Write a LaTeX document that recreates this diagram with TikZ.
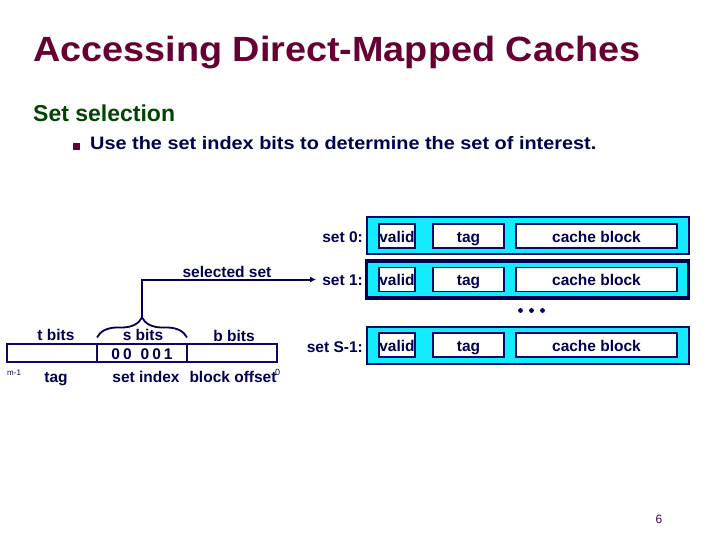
\documentclass[tikz,border=0pt]{standalone}
\usepackage{fontspec}
\setmainfont{Liberation Sans}
\newfontfamily\titlefont{Liberation Sans}[FakeStretch=1.08]
\newfontfamily\bulfont{Liberation Sans}[FakeStretch=1.105]
\usetikzlibrary{arrows.meta,decorations.pathreplacing}
\definecolor{titlecol}{RGB}{102,0,51}
\definecolor{subcol}{RGB}{0,70,0}
\definecolor{navy}{RGB}{0,0,80}
\definecolor{boxline}{RGB}{10,10,100}
\definecolor{cyanfill}{RGB}{20,235,255}
\definecolor{pagecol}{RGB}{60,0,60}
\tikzset{
  lbl/.style={font=\fontsize{15.5}{18}\selectfont\bfseries, text=navy, inner sep=0pt},
  setrow/.style={draw=boxline, line width=2pt, fill=cyanfill, minimum height=37pt, minimum width=322pt, inner sep=0pt},
  selrow/.style={setrow, line width=3.8pt, draw=navy},
  cell/.style={draw=boxline, line width=1.8pt, fill=white, minimum height=24pt, inner sep=0pt, text height=12pt, text depth=0pt, font=\fontsize{15.5}{18}\selectfont\bfseries, text=navy},
  field/.style={draw=boxline, line width=1.5pt, fill=white, minimum height=18pt, minimum width=90pt, inner sep=0pt},
  conn/.style={draw=navy, line width=2pt}
}
\begin{document}
\begin{tikzpicture}[x=1pt,y=-1pt]
\useasboundingbox (0,0) rectangle (720,540);
% title and text
\node[anchor=base west, inner sep=0pt, font=\titlefont\fontsize{35}{40}\selectfont\bfseries, text=titlecol] (title) at (33,62) {Accessing Direct-Mapped Caches};
\node[anchor=base west, inner sep=0pt, font=\fontsize{23}{27}\selectfont\bfseries, text=subcol] (sub) at (33,122) {Set selection};
\node[fill=titlecol, minimum size=7pt, inner sep=0pt] (bul) at (76.5,147) {};
\node[anchor=base west, inner sep=0pt, font=\bulfont\fontsize{18}{21}\selectfont\bfseries, text=navy] (bt1) at (90,150) {Use the set index bits to determine the set of interest.};
% set rows
\node[setrow] (row0) at (527.5,235.5) {};
\node[selrow] (row1) at (527.5,279.5) {};
\node[setrow] (row2) at (527.5,345) {};
\foreach \r/\y in {0/236,1/279.5,2/345}{
  \node[cell, minimum width=36pt] (v\r) at (397,\y) {valid};
  \node[cell, minimum width=71pt] (t\r) at (468.5,\y) {tag};
  \node[cell, minimum width=161pt] (c\r) at (596.5,\y) {cache block};
}
\node[lbl, anchor=base east] (s0) at (363,243) {set 0:};
\node[lbl, anchor=base east] (s1) at (363,285) {set 1:};
\node[lbl, anchor=base east] (s2) at (363,352) {set S-1:};
\foreach \x in {520.5,531.5,542.5}{
  \fill[navy] (\x,310.5) circle (2.4pt);
}
% address
\node[field] (tf) at (52,353) {};
\node[field] (sf) at (142,353) {};
\node[field] (bf) at (232,353) {};
\node[lbl, anchor=base] (sv) at (142,359.5) {0\kern3pt0\kern9pt0\kern3pt0\kern3pt1};
\node[lbl, anchor=base] (tb) at (56,340) {t bits};
\node[lbl, anchor=base] (sb) at (143,340) {s bits};
\node[lbl, anchor=base] (bb) at (234,341) {b bits};
\node[lbl, anchor=base] (tagl) at (56,382) {tag};
\node[lbl, anchor=base] (sil) at (146,382) {set index};
\node[lbl, anchor=base] (bol) at (233,382) {block offset};
\node[anchor=base west, inner sep=0pt, font=\fontsize{8}{9}\selectfont, text=navy] (m1) at (7,375) {m-1};
\node[anchor=base west, inner sep=0pt, font=\fontsize{9}{10}\selectfont, text=navy] (z0) at (275,375) {0};
% brace and connector
\draw[conn, line width=1.8pt, decorate, decoration={brace, amplitude=20pt}] (97,337.5) -- (187,337.5);
\coordinate (btip) at (142,318);
\node[lbl, anchor=base] (selset) at (227,277) {selected set};
\draw[conn, -{Latex[length=6pt,width=6pt]}] (btip) |- ([xshift=-6pt]s1.west |- v1.center);
% page number
\node[anchor=base, inner sep=0pt, font=\fontsize{12}{14}\selectfont, text=pagecol] (pg) at (659,523) {6};
\end{tikzpicture}
\end{document}
